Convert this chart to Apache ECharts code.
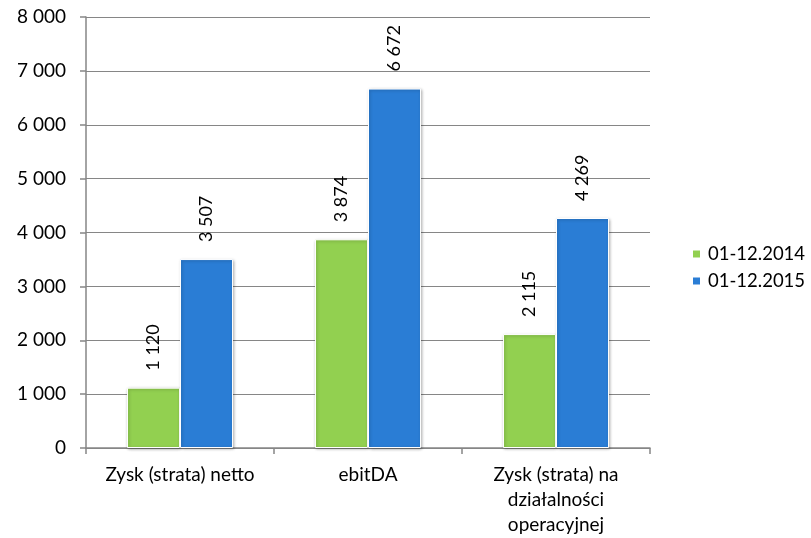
<!DOCTYPE html>
<html>
<head>
<meta charset="utf-8">
<script src="https://cdn.jsdelivr.net/npm/echarts@6/dist/echarts.min.js"></script>
<style>html,body{margin:0;padding:0;background:#fff}#c{width:811px;height:538px}</style>
</head>
<body>
<div id="c"></div>
<script>
const categories = ['Zysk (strata) netto', 'ebitDA', 'Zysk (strata) na\ndziałalności\noperacyjnej'];
const seriesNames = ['01-12.2014', '01-12.2015'];
const values2014 = [1120, 3874, 2115];
const values2015 = [3507, 6672, 4269];
const colors = ['#92d050', '#2a7dd5'];
const fontFamily = 'Lato, "Open Sans", sans-serif';

function fmt(v) {
  return String(v).replace(/\B(?=(\d{3})+(?!\d))/g, ' ');
}

const chart = echarts.init(document.getElementById('c'));
function mkSeries(name, data, color) {
  return {
    name: name,
    type: 'bar',
    data: data,
    barGap: '0%',
    barCategoryGap: '43.6%',
    itemStyle: {
      color: color,
      borderColor: '#ffffff',
      borderWidth: 1,
      shadowBlur: 3,
      shadowColor: 'rgba(0,0,0,0.3)',
      shadowOffsetX: 1,
      shadowOffsetY: 1
    },
    label: {
      show: true,
      position: 'top',
      rotate: 90,
      align: 'left',
      verticalAlign: 'middle',
      distance: 17,
      color: '#000',
      fontSize: 18,
      fontFamily: fontFamily,
      formatter: p => fmt(p.value)
    }
  };
}
chart.setOption({
  animation: false,
  color: colors,
  grid: { left: 86, right: 161, top: 17, bottom: 90, containLabel: false },
  legend: {
    orient: 'vertical',
    left: 686,
    top: 239,
    itemWidth: 9,
    itemHeight: 9,
    itemGap: 7,
    icon: 'rect',
    textStyle: { color: '#000', fontSize: 18.5, lineHeight: 20, fontFamily: fontFamily, padding: [0, 0, 0, 2] },
    data: seriesNames
  },
  xAxis: {
    type: 'category',
    data: categories,
    axisLine: { lineStyle: { color: '#868686', width: 1.5 } },
    axisTick: { show: true, length: 6, alignWithLabel: false, lineStyle: { color: '#868686', width: 1.5 } },
    axisLabel: { color: '#000', fontSize: 19, fontFamily: fontFamily, margin: 14, lineHeight: 25, interval: 0 }
  },
  yAxis: {
    type: 'value',
    min: 0,
    max: 8000,
    interval: 1000,
    axisLine: { show: true, lineStyle: { color: '#868686', width: 1.5 } },
    axisTick: { show: true, length: 6, lineStyle: { color: '#868686', width: 1.5 } },
    splitLine: { lineStyle: { color: '#868686', width: 1.2 } },
    axisLabel: { color: '#000', fontSize: 19, fontFamily: fontFamily, margin: 20, formatter: v => fmt(v) }
  },
  series: [
    mkSeries(seriesNames[0], values2014, colors[0]),
    mkSeries(seriesNames[1], values2015, colors[1])
  ]
});
</script>
</body>
</html>
